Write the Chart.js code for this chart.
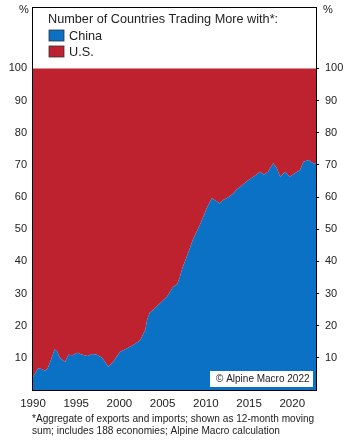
<!DOCTYPE html>
<html>
<head>
<meta charset="utf-8">
<script src="https://cdn.jsdelivr.net/npm/chart.js@4"></script>
<style>
  html, body { margin: 0; padding: 0; background: #fff; }
  canvas { display: block; }
</style>
</head>
<body>
<canvas id="chart" width="350" height="446"></canvas>
<script>
(function () {
  'use strict';

  // decimal years
  var years = [
    1990.0, 1990.3, 1990.6, 1991.0, 1991.4, 1991.7, 1992.1, 1992.5, 1992.8, 1993.1,
    1993.7, 1994.1, 1994.6, 1995.1, 1995.7, 1996.3, 1996.8, 1997.4, 1998.0, 1998.4,
    1998.7, 1999.3, 1999.7, 2000.1, 2000.9, 2001.6, 2002.4, 2003.0, 2003.2, 2003.5,
    2003.9, 2004.7, 2005.5, 2006.2, 2006.7, 2007.0, 2007.3, 2007.8, 2008.5, 2009.3,
    2009.8, 2010.1, 2010.7, 2011.3, 2011.6, 2012.0, 2012.4, 2012.7, 2013.2, 2013.5,
    2014.0, 2014.7, 2015.5, 2016.3, 2016.7, 2017.2, 2017.8, 2018.2, 2018.6, 2019.2,
    2019.7, 2020.3, 2020.9, 2021.3, 2021.9, 2022.4, 2022.75
  ];
  // % of countries trading more with China
  var chinaShare = [
    4, 5.5, 6.8, 6.5, 6.0, 6.8, 9.5, 12.7, 12.0, 10,
    8.7, 11, 10.8, 11.6, 11.0, 10.6, 11.2, 11, 10, 8.5,
    7.2, 8.8, 10.5, 11.9, 13, 14, 15.5, 18.7, 21.8, 24,
    24.9, 27, 29, 32, 33, 35.2, 38, 41.5, 46.7, 51.3,
    54.5, 56.5, 59.6, 58.6, 58, 59.1, 59.6, 60.1, 61.2, 62.2,
    63.2, 64.8, 66.3, 67.9, 66.9, 67.9, 70.5, 69, 66.3, 67.9,
    66.3, 67.4, 68.4, 71, 71.5, 70.5, 70.5
  ];
  // U.S. fills the rest up to 100
  var usTop = years.map(function () { return 100; });

  var xTicks = [1990, 1995, 2000, 2005, 2010, 2015, 2020];
  var yTicks = [10, 20, 30, 40, 50, 60, 70, 80, 90, 100];

  var legendTitle = 'Number of Countries Trading More with*:';
  var seriesNames = ['China', 'U.S.'];
  var footnote = [
    '*Aggregate of exports and imports; shown as 12-month moving',
    'sum; includes 188 economies; Alpine Macro calculation'
  ];
  var credit = '\u00A9 Alpine Macro 2022';

  var BLUE = '#0b71c4';
  var RED = '#bf222f';
  var FONT = '"Liberation Sans", Arial, sans-serif';
  var TEXT = '#222';

  function pts(vals) {
    return years.map(function (y, i) { return { x: y, y: vals[i] }; });
  }

  function noPad(s) {
    s.paddingTop = 0;
    s.paddingBottom = 0;
    s.paddingLeft = 0;
    s.paddingRight = 0;
  }

  var extras = {
    id: 'extras',
    afterDraw: function (chart) {
      var ctx = chart.ctx;
      var a = chart.chartArea;
      ctx.save();

      // frame
      ctx.strokeStyle = '#000';
      ctx.lineWidth = 1;
      ctx.strokeRect(a.left - 0.5, a.top + 0.5, a.right - a.left + 1, a.bottom - a.top);

      // % labels
      ctx.fillStyle = TEXT;
      ctx.font = '11px ' + FONT;
      ctx.textBaseline = 'middle';
      ctx.textAlign = 'center';
      ctx.fillText('%', 24, 10);
      ctx.fillText('%', 328, 10);

      // legend
      ctx.textAlign = 'left';
      ctx.font = '12.7px ' + FONT;
      ctx.fillText(legendTitle, 48, 19);
      var colors = [BLUE, RED];
      for (var i = 0; i < seriesNames.length; i++) {
        var y = 30 + i * 16;
        ctx.fillStyle = colors[i];
        ctx.fillRect(49, y, 15, 11);
        ctx.strokeStyle = '#333';
        ctx.lineWidth = 0.8;
        ctx.strokeRect(49, y, 15, 11);
        ctx.fillStyle = TEXT;
        ctx.fillText(seriesNames[i], 69, y + 6);
      }

      // credit box
      ctx.fillStyle = '#fff';
      ctx.fillRect(210, 371, 103, 16);
      ctx.fillStyle = TEXT;
      ctx.font = '10px ' + FONT;
      ctx.fillText(credit, 216, 379.5);

      // footnote
      ctx.font = '10.1px ' + FONT;
      ctx.fillText(footnote[0], 32, 419);
      ctx.fillText(footnote[1], 32, 431);

      ctx.restore();
    }
  };

  var ctx = document.getElementById('chart').getContext('2d');

  var data = {
    datasets: [
      {
        label: seriesNames[0],
        data: pts(chinaShare),
        backgroundColor: BLUE,
        borderColor: BLUE,
        borderWidth: 0,
        pointRadius: 0,
        tension: 0,
        fill: 'origin'
      },
      {
        label: seriesNames[1],
        data: pts(usTop),
        backgroundColor: RED,
        borderColor: RED,
        borderWidth: 0,
        pointRadius: 0,
        tension: 0,
        fill: '-1'
      }
    ]
  };

  var options = {
    responsive: false,
    animation: false,
    devicePixelRatio: 1,
    layout: { padding: { top: 7, left: 0, right: 0, bottom: 30 } },
    plugins: {
      legend: { display: false },
      tooltip: { enabled: false }
    },
    scales: {
      x: {
        type: 'linear',
        min: 1990,
        max: 2022.75,
        grid: { display: false, drawTicks: false },
        border: { display: false },
        afterBuildTicks: function (s) {
          s.ticks = xTicks.map(function (v) { return { value: v }; });
        },
        afterFit: function (s) { s.height = 26; noPad(s); },
        ticks: {
          autoSkip: false,
          maxRotation: 0,
          padding: 7,
          color: TEXT,
          font: { family: FONT, size: 11.5 },
          callback: function (v) { return String(v); }
        }
      },
      y: {
        position: 'left',
        min: 0,
        max: 119.1,
        grid: { display: false, drawTicks: false },
        border: { display: false },
        afterBuildTicks: function (s) {
          s.ticks = yTicks.map(function (v) { return { value: v }; });
        },
        afterFit: function (s) { s.width = 33; noPad(s); },
        ticks: {
          padding: 6,
          color: TEXT,
          font: { family: FONT, size: 11 }
        }
      },
      y2: {
        position: 'right',
        min: 0,
        max: 119.1,
        grid: { display: true, drawOnChartArea: false, drawTicks: true, tickLength: 3, color: '#000' },
        border: { display: false },
        afterBuildTicks: function (s) {
          s.ticks = yTicks.map(function (v) { return { value: v }; });
        },
        afterFit: function (s) { s.width = 34; noPad(s); },
        ticks: {
          padding: 6,
          color: TEXT,
          font: { family: FONT, size: 11 }
        }
      }
    }
  };

  new Chart(ctx, {
    type: 'line',
    data: data,
    options: options,
    plugins: [extras]
  });
}());
</script>
</body>
</html>
